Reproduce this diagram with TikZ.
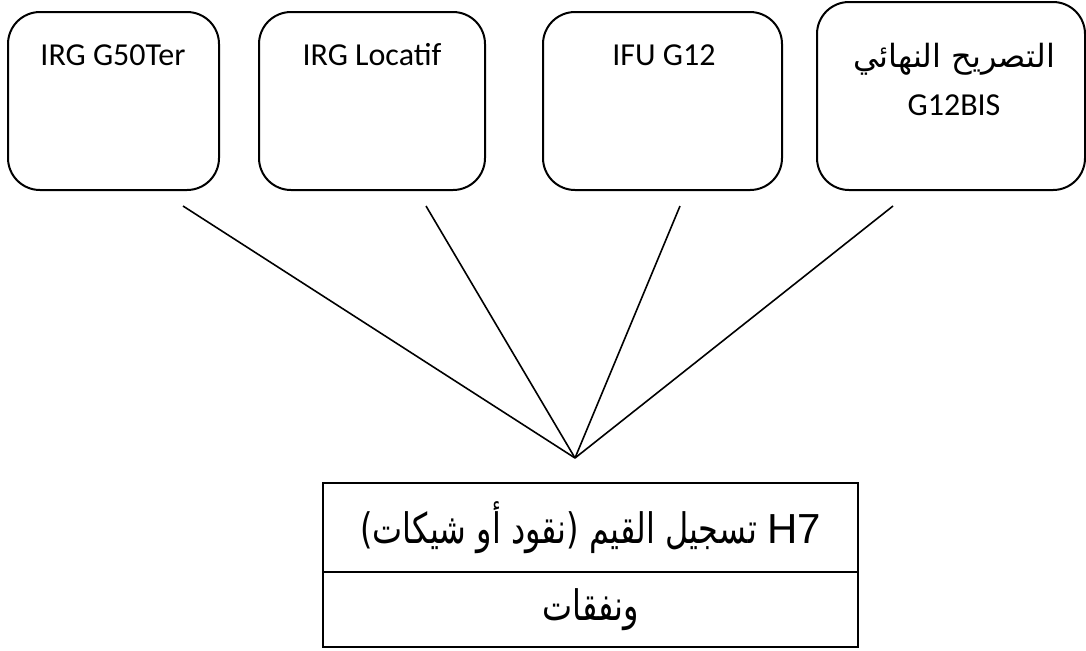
\documentclass[tikz,border=0pt]{standalone}
\usepackage{fontspec}
\setmainfont{Carlito}
\newfontfamily\arabicfont[Script=Arabic]{DejaVu Sans}
\newfontfamily\regfont[Script=Arabic, FakeStretch=0.76]{DejaVu Sans}
\newfontfamily\arialfont{Liberation Sans}
\TeXXeTstate=1
\usetikzlibrary{positioning}

\begin{document}
\begin{tikzpicture}[x=0.5pt, y=-0.5pt, line width=1pt,
  form/.style={draw, rounded corners=16pt, minimum height=89pt},
  cell/.style={draw, minimum width=267.5pt, font=\regfont\fontsize{21}{26}\selectfont}]

\tikzstyle{every node}=[inner sep=0pt, outer sep=0pt, font=\fontsize{16}{24}\selectfont]

\useasboundingbox (0,0) rectangle (1086,650);

% declaration forms
\node[form, minimum width=105.5pt] (g50) at (113.5,101) {};
\node[form, minimum width=113pt] (loc) at (372,101) {};
\node[form, minimum width=119.5pt] (ifu) at (662.5,101) {};
\node[form, minimum width=134pt, minimum height=94pt] (bis) at (951,96) {};

\node (t1) at (113,55) {IRG G50Ter};
\node (t2) at (372,55) {IRG Locatif};
\node (t3) at (664,55) {IFU G12};
\node[align=center] (t4) at (954,79) {{\arabicfont\beginR التصريح النهائي\endR}\\G12BIS};

% register
\node[cell, minimum height=44.5pt] (reg) at (590.5,527.5)
  {\beginR{\arialfont\beginL H7\endL} تسجيل القيم (نقود أو شيكات)\endR};
\node[cell, minimum height=37.5pt, below=0pt of reg] (nafaq) {\beginR ونفقات\endR};

% links
\coordinate (m) at (575,458);
\foreach \x [count=\i] in {183,426,680,893}
  \coordinate (s\i) at (\x,206);
\foreach \i in {1,...,4}
  \draw[line width=0.8pt] (s\i) -- (m);

\end{tikzpicture}
\end{document}
